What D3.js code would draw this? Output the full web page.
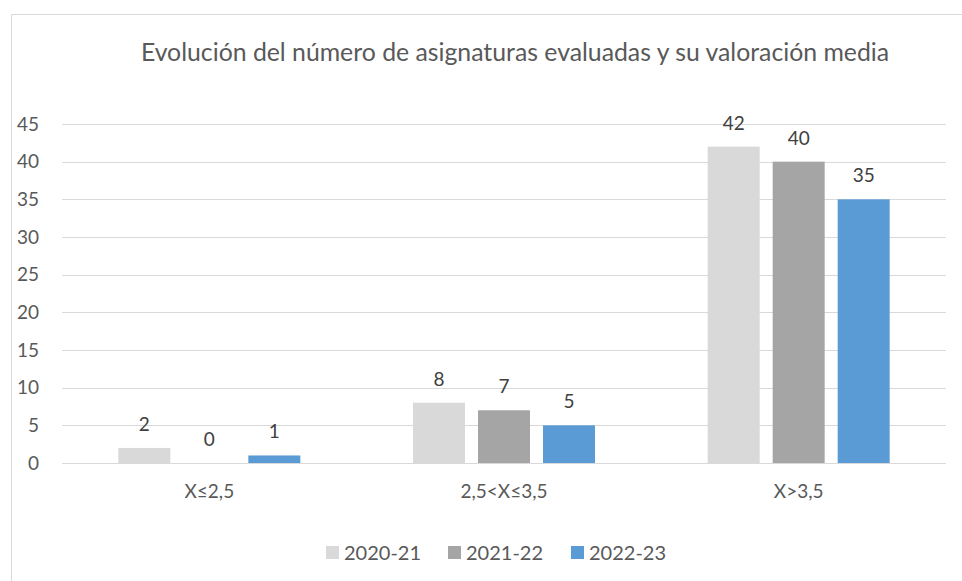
<!DOCTYPE html>
<html>
<head>
<meta charset="utf-8">
<script src="https://cdn.jsdelivr.net/npm/d3@7"></script>
<style>
  body { margin: 0; background: #fff; }
  text { font-family: Lato, "Open Sans", sans-serif; }
</style>
</head>
<body>
<div id="container"></div>
<script>
var categories = ['X≤2,5', '2,5<X≤3,5', 'X>3,5'];
var seriesNames = ['2020-21', '2021-22', '2022-23'];
var values2020 = [2, 8, 42];
var values2021 = [0, 7, 40];
var values2022 = [1, 5, 35];
var yTicks = [0, 5, 10, 15, 20, 25, 30, 35, 40, 45];
var colors = ['#d9d9d9', '#a5a5a5', '#5b9bd5'];
var title = 'Evolución del número de asignaturas evaluadas y su valoración media';

var series = [values2020, values2021, values2022];

var w = 962,
  h = 581,
  plotLeft = 62,
  plotRight = 946,
  plotTop = 124,
  plotBottom = 463;

var svg = d3.select('#container')
  .append('svg')
  .attr('width', w).attr('height', h);

// chart frame (cropped on the right and bottom)
svg.append('path')
  .attr('d', 'M11.5,' + h + 'V14.5H' + w)
  .attr('fill', 'none')
  .attr('stroke', '#d9d9d9');

svg.append('text')
  .attr('x', 515).attr('y', 61)
  .attr('text-anchor', 'middle')
  .attr('fill', '#595959')
  .style('font-size', '24.8px')
  .text(title);

var x0 = d3.scaleBand().domain(categories).range([plotLeft, plotRight]);
var groupW = 182;
var x1 = d3.scaleBand().domain(seriesNames)
  .range([x0.bandwidth() / 2 - groupW / 2, x0.bandwidth() / 2 + groupW / 2])
  .paddingInner(0.2);
var y = d3.scaleLinear().domain([0, 45]).range([plotBottom, plotTop]);

// gridlines
svg.append('g')
  .selectAll('line')
  .data(yTicks)
  .enter().append('line')
  .attr('x1', plotLeft).attr('x2', plotRight)
  .attr('y1', function (d) { return Math.round(y(d)) + 0.5; })
  .attr('y2', function (d) { return Math.round(y(d)) + 0.5; })
  .attr('stroke', '#d9d9d9');

// y axis labels
var yAxis = svg.append('g')
  .attr('transform', 'translate(' + plotLeft + ',0)')
  .call(d3.axisLeft(y).tickValues(yTicks).tickSize(0).tickPadding(23));
yAxis.select('.domain').remove();
yAxis.selectAll('text')
  .attr('fill', '#595959')
  .style('font-size', '19px');

// bars
var group = svg.selectAll('.grp')
  .data(categories)
  .enter().append('g')
  .attr('class', 'grp')
  .attr('transform', function (d) { return 'translate(' + x0(d) + ',0)'; });

group.selectAll('rect')
  .data(function (d, i) {
    return seriesNames.map(function (s, j) { return { s: s, v: series[j][i], j: j }; });
  })
  .enter().append('rect')
  .attr('x', function (d) { return x1(d.s); })
  .attr('width', x1.bandwidth())
  .attr('y', function (d) { return y(d.v); })
  .attr('height', function (d) { return y(0) - y(d.v); })
  .attr('fill', function (d) { return colors[d.j]; });

group.selectAll('.lbl')
  .data(function (d, i) {
    return seriesNames.map(function (s, j) { return { s: s, v: series[j][i] }; });
  })
  .enter().append('text')
  .attr('class', 'lbl')
  .attr('x', function (d) { return x1(d.s) + x1.bandwidth() / 2; })
  .attr('y', function (d) { return y(d.v) - 17; })
  .attr('text-anchor', 'middle')
  .attr('fill', '#404040')
  .style('font-size', '19px')
  .text(function (d) { return d.v; });

// x axis labels
var xAxis = svg.append('g')
  .attr('transform', 'translate(0,' + plotBottom + ')')
  .call(d3.axisBottom(x0).tickSize(0).tickPadding(22));
xAxis.select('.domain').remove();
xAxis.selectAll('text')
  .attr('fill', '#595959')
  .style('font-size', '19px');

// legend
var legendX = [326, 448, 571];
var legend = svg.selectAll('.leg')
  .data(seriesNames)
  .enter().append('g')
  .attr('class', 'leg')
  .attr('transform', function (d, i) { return 'translate(' + legendX[i] + ',546)'; });
legend.append('rect')
  .attr('width', 13).attr('height', 13)
  .attr('fill', function (d, i) { return colors[i]; });
legend.append('text')
  .attr('x', 18).attr('y', 14)
  .attr('fill', '#595959')
  .style('font-size', '20px')
  .text(function (d) { return d; });
</script>
</body>
</html>
